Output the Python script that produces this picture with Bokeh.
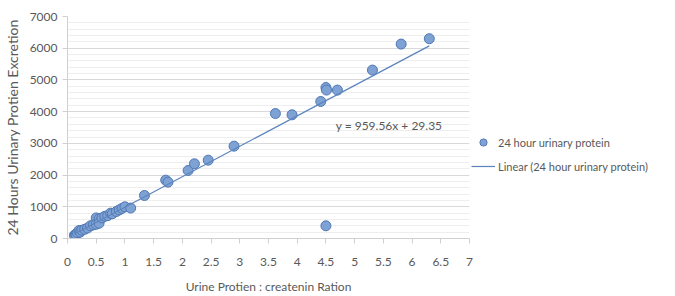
from bokeh.plotting import figure
from bokeh.models import Range1d, Legend, LegendItem, SingleIntervalTicker, ColumnDataSource
from bokeh.core.properties import value
from bokeh.embed import file_html
from bokeh.resources import INLINE

ratio = [0.12, 0.14, 0.15, 0.17, 0.20, 0.22, 0.25, 0.30, 0.35, 0.40, 0.45, 0.50, 0.50,
         0.55, 0.55, 0.60, 0.65, 0.70, 0.75, 0.78, 0.85, 0.90, 0.95, 1.00, 1.10, 1.34,
         1.71, 1.75, 2.10, 2.21, 2.45, 2.90, 3.62, 3.91, 4.41, 4.50, 4.51, 4.50, 4.70,
         5.31, 5.81, 6.30]
protein = [100, 130, 120, 180, 250, 200, 260, 290, 330, 400, 430, 650, 450,
           620, 480, 650, 700, 720, 800, 780, 850, 900, 950, 1000, 960, 1356,
           1840, 1777, 2145, 2356, 2470, 2912, 3940, 3900, 4320, 4760, 4680, 400, 4680,
           5310, 6130, 6300]
slope = 959.56
intercept = 29.35
equation = "y = 959.56x + 29.35"

FONT = "Lato"
GREY = "#595959"

p = figure(frame_width=402, frame_height=222, output_backend="svg", toolbar_location=None,
           x_range=Range1d(0, 7), y_range=Range1d(0, 7000),
           min_border_left=57, min_border_right=0, min_border_top=16, min_border_bottom=0)
p.outline_line_color = None
p.background_fill_color = "white"

src = ColumnDataSource(dict(x=ratio, y=protein))
pts = p.scatter("x", "y", source=src, size=10, fill_color="#7fa2d4",
                line_color="#4f78b4", line_width=1)

xs = [min(ratio), max(ratio)]
ys = [slope * v + intercept for v in xs]
ln = p.line(xs, ys, line_color="#5b84be", line_width=1.2)

p.text(x=[4.67], y=[3560], text=[equation], text_font=value(FONT), text_font_size="12px",
       text_color=GREY, text_baseline="middle", text_align="left")

p.xaxis.ticker = SingleIntervalTicker(interval=0.5, num_minor_ticks=0)
p.yaxis.ticker = SingleIntervalTicker(interval=1000, num_minor_ticks=5)
p.xgrid.grid_line_color = None
p.ygrid.grid_line_color = "#d9d9d9"
p.ygrid.minor_grid_line_color = "#eeeeee"

for ax in (p.xaxis[0], p.yaxis[0]):
    ax.axis_line_color = "#d0d0d0"
    ax.major_tick_line_color = "#d0d0d0"
    ax.major_tick_out = 5
    ax.major_tick_in = 0
    ax.minor_tick_line_color = None
    ax.major_label_text_font = FONT
    ax.major_label_text_font_size = "12px"
    ax.major_label_text_color = GREY
    ax.axis_label_text_font = FONT
    ax.axis_label_text_color = GREY
    ax.axis_label_text_font_style = "normal"

p.xaxis.axis_label = "Urine Protien : createnin Ration"
p.xaxis.axis_label_text_font_size = "12px"
p.xaxis.major_label_standoff = 14
p.xaxis.axis_label_standoff = 10
p.yaxis.axis_label = "24 Hours Urinary Protien Excretion"
p.yaxis.axis_label_text_font_size = "14px"
p.yaxis.axis_label_standoff = 6

legend = Legend(items=[LegendItem(label="24 hour urinary protein", renderers=[pts]),
                       LegendItem(label="Linear (24 hour urinary protein)", renderers=[ln])],
                location=(2, 63), border_line_color=None, background_fill_alpha=0,
                label_text_font=FONT, label_text_font_size="11px", label_text_color=GREY,
                glyph_width=24, glyph_height=18, label_standoff=3, spacing=6,
                padding=0, margin=0)
p.add_layout(legend, "right")

open("out.html", "w").write(file_html(p, INLINE))
